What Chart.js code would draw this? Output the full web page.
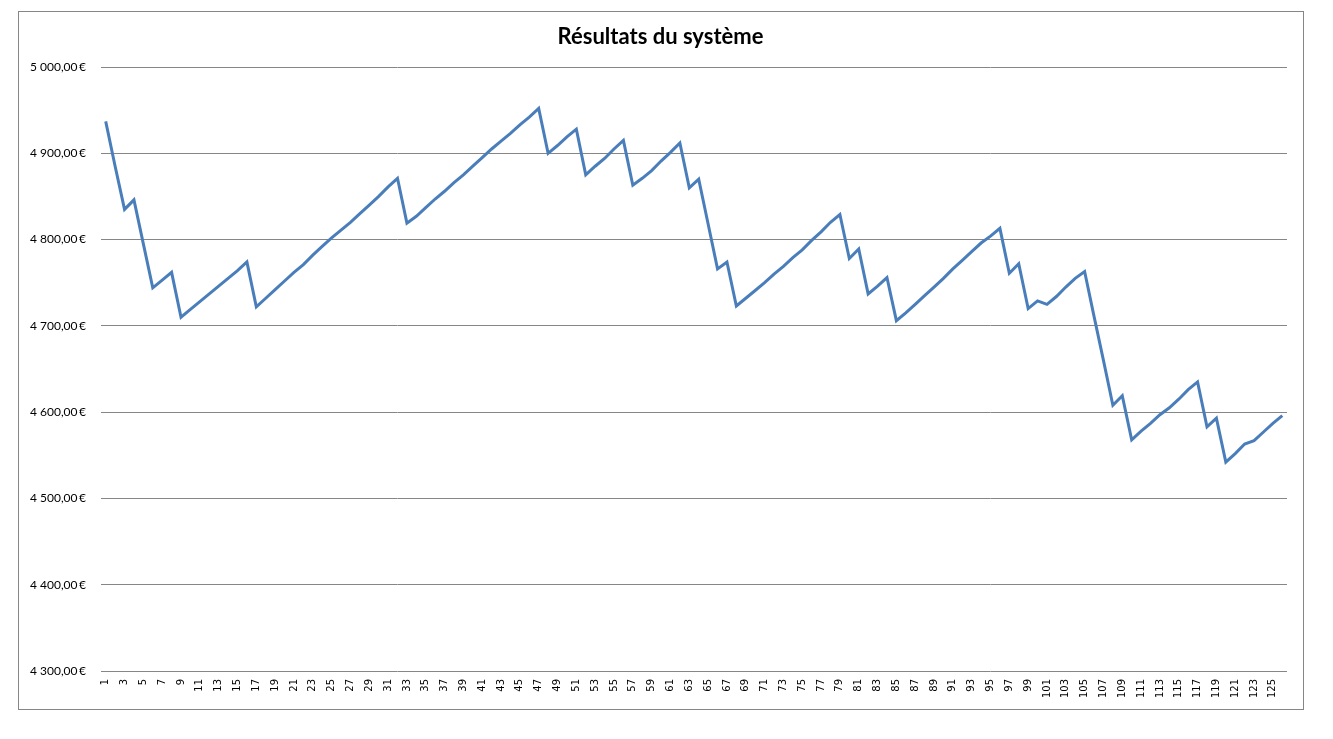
<!DOCTYPE html>
<html>
<head>
<meta charset="utf-8">
<script src="https://cdn.jsdelivr.net/npm/chart.js@4"></script>
<style>
html,body{margin:0;padding:0;background:#fff;}
#wrap{width:1333px;height:739px;position:relative;}
</style>
</head>
<body>
<div id="wrap"><canvas id="c" width="1333" height="739"></canvas></div>
<script>
const chartTitle = "Résultats du système";
const categories = [];
for (let i = 1; i <= 126; i++) categories.push(String(i));
const results = [
  4937, 4885, 4835, 4846, 4795, 4744, 4753, 4762, 4710, 4719,
  4728, 4737, 4746, 4755, 4764, 4774, 4722, 4732, 4742, 4752,
  4762, 4771, 4782, 4792, 4802, 4811, 4820, 4830, 4840, 4850,
  4861, 4871, 4819, 4827, 4837, 4847, 4856, 4866, 4875, 4885,
  4895, 4905, 4914, 4923, 4933, 4942, 4952, 4900, 4909, 4919,
  4928, 4875, 4885, 4894, 4905, 4915, 4863, 4871, 4880, 4891,
  4901, 4912, 4860, 4870, 4818, 4766, 4774, 4723, 4732, 4741,
  4750, 4760, 4769, 4779, 4788, 4799, 4809, 4820, 4829, 4778,
  4789, 4737, 4746, 4756, 4706, 4715, 4725, 4735, 4745, 4755,
  4766, 4776, 4786, 4796, 4804, 4813, 4761, 4772, 4720, 4729,
  4725, 4734, 4745, 4755, 4763, 4711, 4660, 4608, 4619, 4568,
  4578, 4587, 4597, 4605, 4615, 4626, 4635, 4583, 4593, 4542,
  4552, 4563, 4567, 4577, 4587, 4596
];
const yMin = 4300, yMax = 5000, yStep = 100;

function euro(v) {
  const s = String(Math.round(v)).replace(/\B(?=(\d{3})+(?!\d))/g, " ");
  return s + ",00\u2009€";
}

const frame = {
  id: 'frame',
  beforeDraw(chart) {
    const ctx = chart.ctx;
    ctx.save();
    ctx.fillStyle = '#fff';
    ctx.fillRect(0, 0, chart.width, chart.height);
    ctx.strokeStyle = '#868686';
    ctx.lineWidth = 1;
    ctx.strokeRect(18.5, 11.5, 1285, 698);
    ctx.restore();
  }
};

new Chart(document.getElementById('c'), {
  type: 'line',
  data: {
    labels: categories,
    datasets: [{
      label: 'Résultats',
      data: results,
      borderColor: '#4a7ebb',
      backgroundColor: '#4a7ebb',
      borderWidth: 3,
      pointRadius: 0,
      tension: 0,
      fill: false
    }]
  },
  options: {
    responsive: false,
    animation: false,
    layout: { padding: { left: 18, right: 30, top: 11, bottom: 30 } },
    plugins: {
      legend: { display: false },
      tooltip: { enabled: false },
      title: {
        display: true,
        text: chartTitle,
        color: '#000',
        font: { family: 'Lato', size: 22, weight: 'bold', lineHeight: 1.1 },
        padding: { top: 14, bottom: 17.8 }
      }
    },
    scales: {
      x: {
        offset: true,
        grid: { display: false, drawTicks: false },
        border: { display: false },
        ticks: {
          autoSkip: false,
          maxRotation: 90,
          minRotation: 90,
          padding: 8,
          color: '#000',
          font: { family: 'DejaVu Sans', size: 10 },
          callback: function(val, idx) { return idx % 2 === 0 ? this.getLabelForValue(val) : ''; }
        },
        afterFit(scale) { scale.height = 38; }
      },
      y: {
        min: yMin,
        max: yMax,
        grid: { color: '#868686', lineWidth: 1, drawTicks: false },
        border: { display: false },
        ticks: {
          stepSize: yStep,
          padding: 15,
          color: '#000',
          font: { family: 'Lato', size: 12 },
          callback: v => euro(v)
        },
        afterFit(scale) { scale.width = 83; }
      },
      yRight: {
        position: 'right',
        display: true,
        grid: { display: false, drawTicks: false },
        border: { display: false },
        ticks: { display: false },
        afterFit(scale) { scale.width = 16; }
      }
    }
  },
  plugins: [frame]
});
</script>
</body>
</html>
